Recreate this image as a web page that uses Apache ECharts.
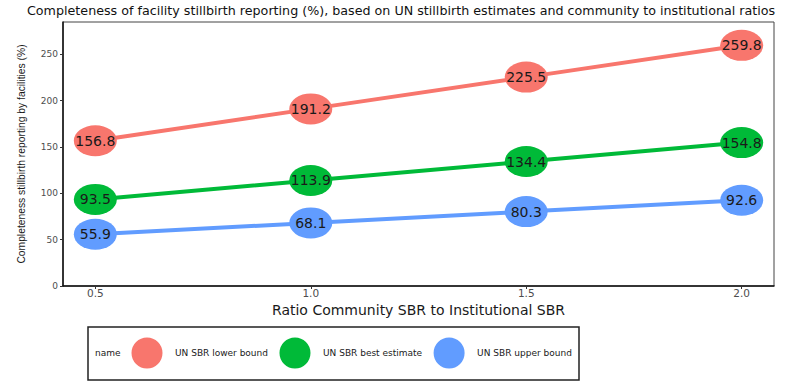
<!DOCTYPE html>
<html>
<head>
<meta charset="utf-8">
<script src="https://cdn.jsdelivr.net/npm/echarts@6/dist/echarts.min.js"></script>
<style>
  html, body { margin: 0; padding: 0; background: #ffffff; }
  #chart { width: 793px; height: 383px; }
</style>
</head>
<body>
<div id="chart"></div>
<script>
// Ratio of community SBR to institutional SBR (x values)
const ratios = [0.5, 1.0, 1.5, 2.0];
// Completeness of facility stillbirth reporting (%) for each UN SBR scenario
const lowerBound = [156.8, 191.2, 225.5, 259.8];
const bestEstimate = [93.5, 113.9, 134.4, 154.8];
const upperBound = [55.9, 68.1, 80.3, 92.6];
const seriesNames = ['UN SBR lower bound', 'UN SBR best estimate', 'UN SBR upper bound'];
const yTicks = [0, 50, 100, 150, 200, 250];
const xTicks = [0.5, 1.0, 1.5, 2.0];

const colors = ['#F8766D', '#00BA38', '#619CFF'];
const ellipse = 'path://M0,50 A50,50 0 1,1 100,50 A50,50 0 1,1 0,50 Z';
const font = 'DejaVu Sans';

function pairs(values) {
  return ratios.map((r, i) => [r, values[i]]);
}

function makeSeries(name, values, color) {
  return {
    name: name,
    type: 'line',
    data: pairs(values),
    symbol: ellipse,
    symbolSize: [43, 31],
    symbolKeepAspect: false,
    lineStyle: { color: color, width: 4 },
    itemStyle: { color: color },
    label: {
      show: true,
      position: 'inside',
      color: '#1a1a1a',
      fontFamily: font,
      fontSize: 14,
      formatter: p => p.value[1].toFixed(1)
    },
    emphasis: { disabled: true },
    animation: false
  };
}

const chart = echarts.init(document.getElementById('chart'), null, { renderer: 'svg' });
chart.setOption({
  backgroundColor: '#ffffff',
  title: {
    text: 'Completeness of facility stillbirth reporting (%), based on UN stillbirth estimates and community to institutional ratios',
    left: 27,
    top: 4,
    padding: 0,
    textStyle: { fontFamily: font, fontSize: 12.7, fontWeight: 'normal', color: '#111111' }
  },
  grid: {
    left: 63, right: 19, top: 22, bottom: 97,
    show: true, borderColor: '#444444', borderWidth: 1, backgroundColor: '#ffffff'
  },
  xAxis: {
    type: 'value',
    min: 0.425,
    max: 2.075,
    name: 'Ratio Community SBR to Institutional SBR',
    nameLocation: 'middle',
    nameGap: 12,
    nameTextStyle: { fontFamily: font, fontSize: 14, color: '#1a1a1a' },
    axisLine: { show: true, lineStyle: { color: '#111111', width: 1.5 } },
    axisTick: { show: true, length: 3, lineStyle: { color: '#333333' }, customValues: xTicks },
    axisLabel: {
      fontFamily: font, fontSize: 10.5, color: '#4d4d4d', margin: 1,
      customValues: xTicks,
      formatter: v => v.toFixed(1)
    },
    splitLine: { show: false }
  },
  yAxis: {
    type: 'value',
    min: 0,
    max: 285,
    name: 'Completeness stillbirth reporting by facilities (%)',
    nameLocation: 'middle',
    nameGap: 37,
    nameTextStyle: { fontFamily: 'Liberation Sans', fontSize: 10.3, color: '#1a1a1a' },
    axisLine: { show: true, lineStyle: { color: '#111111', width: 1.5 } },
    axisTick: { show: true, length: 3, lineStyle: { color: '#333333' }, customValues: yTicks },
    axisLabel: {
      fontFamily: font, fontSize: 9, color: '#4d4d4d', margin: 5,
      customValues: yTicks
    },
    splitLine: { show: false }
  },
  legend: {
    data: seriesNames,
    left: 131.5,
    top: 337.5,
    padding: 0,
    itemWidth: 33,
    itemHeight: 31,
    itemGap: 11.5,
    icon: ellipse,
    selectedMode: false,
    textStyle: { fontFamily: font, fontSize: 9, color: '#1a1a1a', padding: [0, 0, 0, 6.5] }
  },
  graphic: [
    {
      type: 'rect',
      shape: { x: 88, y: 327, width: 491, height: 53 },
      style: { fill: 'none', stroke: '#222222', lineWidth: 1.5 },
      z: 0
    },
    {
      type: 'text',
      x: 95,
      y: 353,
      style: { text: 'name', fontFamily: font, fontSize: 9, fill: '#1a1a1a', textVerticalAlign: 'middle' }
    }
  ],
  series: [
    makeSeries(seriesNames[0], lowerBound, colors[0]),
    makeSeries(seriesNames[1], bestEstimate, colors[1]),
    makeSeries(seriesNames[2], upperBound, colors[2])
  ]
});
</script>
</body>
</html>
